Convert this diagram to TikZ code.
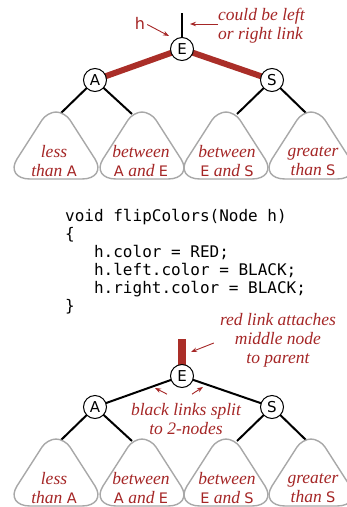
\documentclass[tikz,border=0pt]{standalone}
\usepackage{fontspec}
\setmainfont{Liberation Serif}
\newfontfamily\lettersf{DejaVu Sans}
\newfontfamily\codefont{DejaVu Sans Mono}
\usetikzlibrary{arrows.meta}
\definecolor{linkred}{RGB}{170,46,40}
\definecolor{labelred}{RGB}{165,38,38}
\definecolor{outlinegray}{RGB}{168,168,168}
\pgfdeclarelayer{bg}
\pgfsetlayers{bg,main}
% a subtree drawn as a rounded triangle: #1 = centre x, #2 = bottom y
\newcommand\subtreeshape[2]{%
  \path[subtree] (#1,#2) -- ++(26,0)
    .. controls ++(14,0) and ++(7,11) .. ++(13,-20)
    -- ++(-25,-39)
    .. controls ++(-2.8,-4.4) and ++(4.9,0) .. ++(-14,-8)
    .. controls ++(-4.9,0) and ++(2.8,-4.4) .. ++(-14,8)
    -- ++(-25,39)
    .. controls ++(-7,11) and ++(-14,0) .. ++(13,20)
    -- cycle;}
\begin{document}
\begin{tikzpicture}[x=1pt,y=-1pt,
  treenode/.style={circle,draw,line width=1pt,fill=white,inner sep=0pt,
    minimum size=23pt,font=\lettersf\fontsize{15}{15}\selectfont},
  blacklink/.style={line width=2pt},
  redlink/.style={line width=6pt,draw=linkred},
  subtree/.style={draw=outlinegray,line width=1.4pt,fill=white},
  lbl/.style={text=labelred,font=\itshape\fontsize{17.5}{19}\selectfont,
    align=center,inner sep=0pt},
  pointer/.style={draw=labelred,line width=0.9pt,
    -{Stealth[length=6pt,width=4.5pt]}},
]
\useasboundingbox (0,0) rectangle (347,507);
\newcommand\sfl[1]{{\upshape\lettersf\fontsize{14.5}{14.5}\selectfont #1}}

% ---------- upper tree: before the flip ----------
\node[treenode] (E1) at (182,49) {E};
\node[treenode] (A1) at (95,80) {A};
\node[treenode] (S1) at (272,80) {S};
\coordinate (up1) at (182,13);
\coordinate (t1a) at (60,114);
\coordinate (t1b) at (132,114);
\coordinate (t1c) at (237,114);
\coordinate (t1d) at (307,114);
\begin{pgfonlayer}{bg}
  \draw[blacklink] (up1) -- (E1.center);
  \draw[redlink] (E1.center) -- (A1.center);
  \draw[redlink] (E1.center) -- (S1.center);
  \draw[blacklink] (A1.center) -- (t1a);
  \draw[blacklink] (A1.center) -- (t1b);
  \draw[blacklink] (S1.center) -- (t1c);
  \draw[blacklink] (S1.center) -- (t1d);
\end{pgfonlayer}
\subtreeshape{56}{179}
\subtreeshape{142}{179}
\subtreeshape{226}{179}
\subtreeshape{311}{179}
\node[lbl] (l1a) at (54,161) {less\\than \sfl{A}};
\node[lbl] (l1b) at (141,161) {between\\\sfl{A} and \sfl{E}};
\node[lbl] (l1c) at (227,161) {between\\\sfl{E} and \sfl{S}};
\node[lbl] (l1d) at (313,161) {greater\\than \sfl{S}};

\node[text=labelred,inner sep=0pt,font=\lettersf\fontsize{16}{16}\selectfont] (h) at (140,23) {h};
\coordinate (hend) at (169,36);
\draw[pointer] (h.east) ++(2,1.5) -- (hend);
\node[lbl,align=left,anchor=north west] (link) at (218,8) {could be left\\or right link};
\coordinate (linkend) at (190,24);
\draw[pointer] (link.west |- linkend) -- (linkend);

% ---------- the method ----------
\node[anchor=north west,inner sep=0pt,align=left,
  font=\codefont\fontsize{16}{18}\selectfont] (code) at (65,209)
  {void flipColors(Node h)\\
   \{\\
   \phantom{xxx}h.color = RED;\\
   \phantom{xxx}h.left.color = BLACK;\\
   \phantom{xxx}h.right.color = BLACK;\\
   \}};

% ---------- lower tree: after the flip ----------
\node[treenode] (E2) at (182,376) {E};
\node[treenode] (A2) at (95,407) {A};
\node[treenode] (S2) at (272,407) {S};
\coordinate (up2) at (182,339);
\coordinate (t2a) at (60,441);
\coordinate (t2b) at (132,441);
\coordinate (t2c) at (237,441);
\coordinate (t2d) at (307,441);
\begin{pgfonlayer}{bg}
  \draw[redlink,line width=8pt] (up2) -- (E2.center);
  \draw[blacklink] (E2.center) -- (A2.center);
  \draw[blacklink] (E2.center) -- (S2.center);
  \draw[blacklink] (A2.center) -- (t2a);
  \draw[blacklink] (A2.center) -- (t2b);
  \draw[blacklink] (S2.center) -- (t2c);
  \draw[blacklink] (S2.center) -- (t2d);
\end{pgfonlayer}
\subtreeshape{56}{506}
\subtreeshape{142}{506}
\subtreeshape{226}{506}
\subtreeshape{311}{506}
\node[lbl] (l2a) at (54,488) {less\\than \sfl{A}};
\node[lbl] (l2b) at (141,488) {between\\\sfl{A} and \sfl{E}};
\node[lbl] (l2c) at (227,488) {between\\\sfl{E} and \sfl{S}};
\node[lbl] (l2d) at (313,488) {greater\\than \sfl{S}};

\node[lbl] (attach) at (278,340) {red link attaches\\middle node\\to parent};
\coordinate (barpt) at (191,352);
\draw[pointer] (attach.west) ++(-6,3) -- (barpt);
\node[lbl] (split) at (186,419) {black links split\\to 2-nodes};
\coordinate (lpt) at (155,388);
\coordinate (rpt) at (203,387);
\draw[pointer] (split.north) ++(-19,-9) -- (lpt);
\draw[pointer] (split.north) ++(6,-9) -- (rpt);
\end{tikzpicture}
\end{document}
